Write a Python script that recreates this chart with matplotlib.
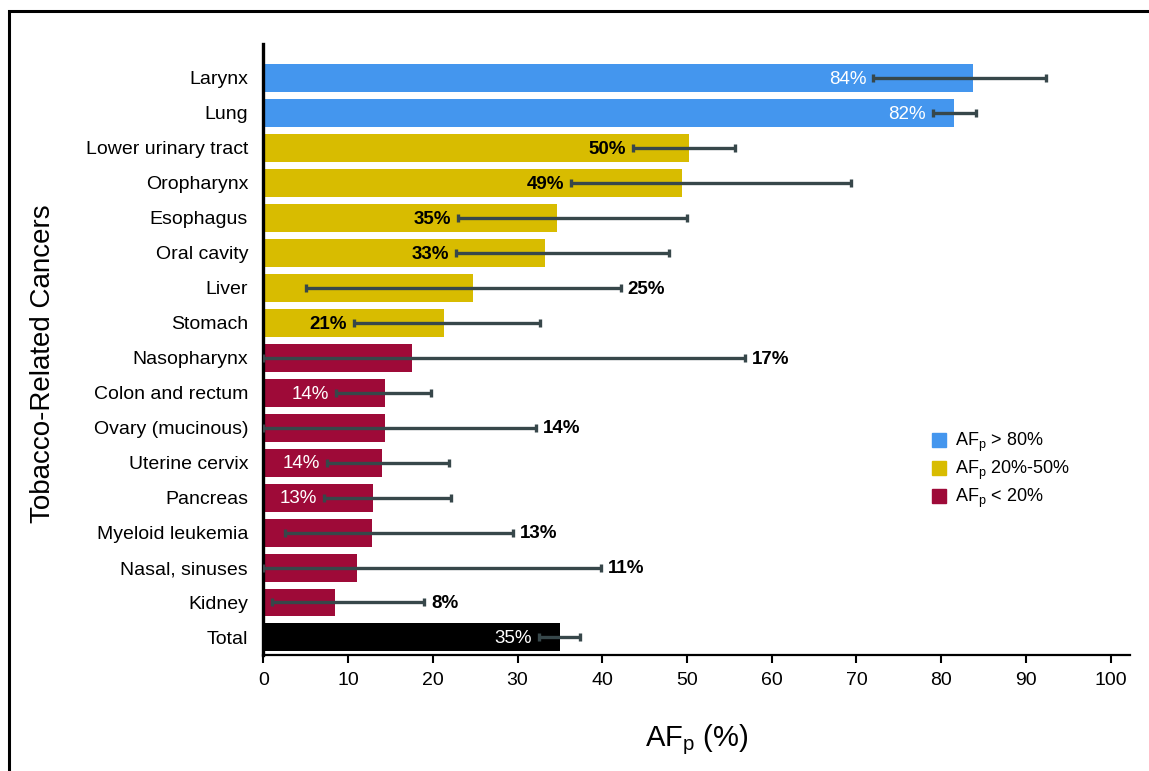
import matplotlib
matplotlib.use("Agg")
import matplotlib.pyplot as plt
from matplotlib.lines import Line2D
from matplotlib.patches import Rectangle

plt.rcParams['font.family'] = ['Liberation Sans', 'DejaVu Sans']
plt.rcParams['mathtext.fontset'] = 'custom'
plt.rcParams['mathtext.rm'] = 'Liberation Sans'
plt.rcParams['mathtext.it'] = 'Liberation Sans'
plt.rcParams['mathtext.bf'] = 'Liberation Sans:bold'

cancers = ["Larynx", "Lung", "Lower urinary tract", "Oropharynx", "Esophagus",
           "Oral cavity", "Liver", "Stomach", "Nasopharynx", "Colon and rectum",
           "Ovary (mucinous)", "Uterine cervix", "Pancreas", "Myeloid leukemia",
           "Nasal, sinuses", "Kidney", "Total"]
af = [83.8, 81.5, 50.2, 49.4, 34.7, 33.2, 24.7, 21.3, 17.5, 14.4,
      14.4, 14.0, 13.0, 12.8, 11.0, 8.5, 35.0]
ci_low = [72.0, 79.0, 43.6, 36.3, 23.0, 22.7, 5.0, 10.7, 0.0, 8.6,
          0.0, 7.5, 7.1, 2.6, 0.0, 1.0, 32.5]
ci_high = [92.4, 84.1, 55.7, 69.4, 50.0, 47.9, 42.2, 32.7, 56.9, 19.8,
           32.2, 21.9, 22.2, 29.5, 39.8, 19.0, 37.4]
pct_labels = ["84%", "82%", "50%", "49%", "35%", "33%", "25%", "21%", "17%", "14%",
              "14%", "14%", "13%", "13%", "11%", "8%", "35%"]
groups = ["high", "high", "mid", "mid", "mid", "mid", "mid", "mid", "low", "low",
          "low", "low", "low", "low", "low", "low", "total"]

group_colors = {"high": "#4496EE", "mid": "#D8BC00", "low": "#9E0A38", "total": "#000000"}
label_colors = {"high": "white", "mid": "black", "low": "white", "total": "white"}
err_color = "#37474A"

fig = plt.figure(figsize=(11.49, 7.71), dpi=100)
ax = fig.add_axes([0.2292, 0.1505, 0.7543, 0.7924])

ypos = list(range(len(cancers)))
colors = [group_colors[g] for g in groups]
ax.barh(ypos, af, height=0.8, color=colors, zorder=2)

xerr = [[v - lo for v, lo in zip(af, ci_low)], [hi - v for v, hi in zip(af, ci_high)]]
ax.errorbar(af, ypos, xerr=xerr, fmt='none', ecolor=err_color, elinewidth=2.4,
            capsize=2.6, capthick=2.4, zorder=3)

for y, lo, hi, txt, g in zip(ypos, ci_low, ci_high, pct_labels, groups):
    if lo >= 6:
        # room inside the bar: put label just left of the lower CI
        col = label_colors[g]
        ax.annotate(txt, (lo, y), xytext=(-5, -1), textcoords='offset points',
                    ha='right', va='center', fontsize=13.5, color=col,
                    fontweight='bold' if col == 'black' else 'normal', zorder=4)
    else:
        ax.annotate(txt, (hi, y), xytext=(5, -1), textcoords='offset points',
                    ha='left', va='center', fontsize=13.5, color='black',
                    fontweight='bold', zorder=4)

ax.set_xlim(0, 102.3)
ax.set_ylim(16.5, -0.966)
ax.set_xticks(range(0, 101, 10))
ax.set_yticks(ypos)
ax.set_yticklabels(cancers, fontsize=14)
ax.tick_params(axis='y', length=0, pad=11)
ax.tick_params(axis='x', length=6, width=1.5, labelsize=14, pad=6)

for s in ['top', 'right']:
    ax.spines[s].set_visible(False)
ax.spines['left'].set_linewidth(2.4)
ax.spines['bottom'].set_linewidth(1.6)

ax.set_xlabel("AF$_\\mathrm{p}$ (%)", fontsize=21, labelpad=24)
fig.text(0.037, 0.528, "Tobacco-Related Cancers", rotation=90, ha='center', va='center',
         fontsize=20)

handles = [Line2D([], [], marker='s', linestyle='none', markersize=10,
                  color=group_colors[g]) for g in ["high", "mid", "low"]]
names = ["AF$_\\mathrm{p}$ > 80%", "AF$_\\mathrm{p}$ 20%-50%", "AF$_\\mathrm{p}$ < 20%"]
fig.legend(handles, names, loc='upper left', bbox_to_anchor=(0.805, 0.45),
           frameon=False, fontsize=13, handlelength=0.8, handletextpad=0.45,
           labelspacing=0.25, borderaxespad=0)

# outer frame (left and top edges visible)
fig.patches.append(Rectangle((9 / 1149, -0.5), 2.0, 1.5 - 11 / 771, fill=False,
                             edgecolor='black', linewidth=2.2,
                             transform=fig.transFigure, figure=fig))

fig.savefig("out.png", dpi=100)
